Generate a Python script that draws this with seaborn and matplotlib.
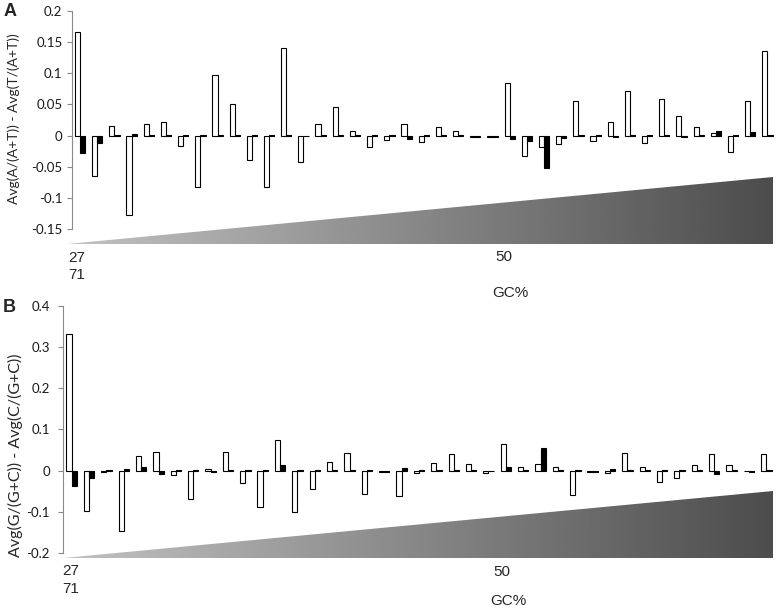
import numpy as np
import pandas as pd
import matplotlib
matplotlib.use('Agg')
import matplotlib.pyplot as plt
import seaborn as sns
from matplotlib.patches import Polygon

# one group of two bars per genome, ordered by GC content (27% -> 71%)
groups=list(range(1,42))
at_white=[0.167,-0.065,0.015,-0.127,0.018,0.022,-0.016,-0.082,0.097,0.050,
          -0.039,-0.082,0.140,-0.043,0.018,0.046,0.007,-0.019,-0.007,0.018,
          -0.010,0.014,0.008,-0.002,-0.002,0.085,-0.032,-0.019,-0.014,0.055,
          -0.008,0.022,0.071,-0.012,0.058,0.031,0.013,0.004,-0.026,0.056,0.136]
at_black=[-0.028,-0.012,0.001,0.002,0.001,0.001,0.001,0.001,0.001,0.001,
          0.001,0.001,0.001,-0.001,0.001,0.001,0.001,0.001,0.001,-0.006,
          0.001,0.001,0.001,-0.002,-0.002,-0.005,-0.008,-0.052,-0.004,0.001,
          0.001,-0.003,0.001,0.001,0.001,-0.002,0.001,0.007,0.001,0.005,0.001]
gc_white=[0.332,-0.098,-0.004,-0.147,0.035,0.045,-0.011,-0.070,0.003,0.046,
          -0.031,-0.089,0.075,-0.100,-0.045,0.022,0.042,-0.057,-0.003,-0.061,
          -0.005,0.019,0.041,0.017,-0.006,0.065,0.010,0.016,0.008,-0.059,
          -0.003,-0.006,0.044,0.008,-0.027,-0.019,0.014,0.040,0.014,-0.002,0.041]
gc_black=[-0.037,-0.019,0.002,0.003,0.010,-0.008,0.002,0.001,-0.003,0.002,
          0.002,0.001,0.014,0.001,0.002,0.001,0.001,0.002,-0.003,0.006,
          0.001,0.001,0.001,0.001,-0.002,0.010,0.001,0.054,0.001,0.001,
          -0.004,0.004,0.001,0.001,0.001,0.001,0.001,-0.008,0.001,-0.004,0.001]

at_ticks=[0.2,0.15,0.1,0.05,0,-0.05,-0.1,-0.15]
at_ticklabels=['0.2','0.15','0.1','0.05','0','-0.05','-0.1','-0.15']
gc_ticks=[0.4,0.3,0.2,0.1,0,-0.1,-0.2]
gc_ticklabels=['0.4','0.3','0.2','0.1','0','-0.1','-0.2']

sns.set_style('white')
plt.rcParams['font.family']=['Lato','DejaVu Sans']
W,H=777,616
fig=plt.figure(figsize=(W/100,H/100),dpi=100)

def px_axes(left,top,right,bottom):
    return fig.add_axes([left/W,1-bottom/H,(right-left)/W,(bottom-top)/H])

# helper axes in pixel units for the GC gradient wedges
bg=fig.add_axes([0,0,1,1],zorder=-1)
bg.set_xlim(0,W); bg.set_ylim(H,0); bg.axis('off')
grad=np.linspace(0.76,0.30,256)[None,:]
def wedge(x0,x1,ybot,ytop):
    poly=Polygon([(x0,ybot),(x1,ybot),(x1,ytop)],closed=True,facecolor='none',edgecolor='none')
    bg.add_patch(poly)
    im=bg.imshow(grad,cmap='gray',vmin=0,vmax=1,aspect='auto',extent=[x0,x1,ybot,ytop],interpolation='bilinear')
    im.set_clip_path(poly)
wedge(67,773,244,177)
wedge(63,773,558,491)

def panel(ax,white,black,ylim,ticks,labels,pad):
    df=pd.DataFrame({'group':groups*2,'value':white+black,
                     'series':['white']*len(white)+['black']*len(black)})
    sns.barplot(df,x='group',y='value',hue='series',hue_order=['white','black'],
                palette={'white':'white','black':'black'},saturation=1,
                edgecolor='black',linewidth=0.8,width=0.6,gap=0,
                errorbar=None,legend=False,ax=ax)
    ax.set_facecolor('none')
    ax.set_xlim(-0.5,40.5)
    ax.set_ylim(*ylim)
    ax.set_xticks([])
    ax.set(xlabel='',ylabel='')
    ax.set_yticks(ticks,labels)
    sns.despine(ax=ax,bottom=True)
    ax.spines['left'].set_color('#8a8a8a')
    ax.tick_params(axis='y',left=True,direction='out',length=3.5,width=0.8,
                   color='#8a8a8a',labelsize=9.5,pad=pad,labelcolor='#1a1a1a')

axA=px_axes(71.5,11,776,229)
panel(axA,at_white,at_black,(-0.15,0.2),at_ticks,at_ticklabels,3)
axB=px_axes(63,306,775,553)
panel(axB,gc_white,gc_black,(-0.2,0.4),gc_ticks,gc_ticklabels,6)

def ftext(x,y,s,**kw):
    fig.text(x/W,1-y/H,s,**kw)

ftext(10,12,'A',fontsize=13,fontweight='bold',ha='center',va='center',family=['Liberation Sans'])
ftext(9,308,'B',fontsize=13,fontweight='bold',ha='center',va='center',family=['Liberation Sans'])
ftext(14,119,'Avg(A/(A+T)) - Avg(T/(A+T))',rotation=90,fontsize=10,ha='center',va='center')
ftext(15,455,'Avg(G/(G+C)) - Avg(C/(G+C))',rotation=90,fontsize=11.5,ha='center',va='center')

lab=dict(fontsize=11,ha='center',va='center',family=['Liberation Sans'])
ftext(77,257.5,'27',**lab); ftext(77,274.5,'71',**lab)
ftext(504,257,'50',**lab); ftext(510,293,'GC%',**lab)
ftext(71,571,'27',**lab); ftext(71,589,'71',**lab)
ftext(502,572,'50',**lab); ftext(508,601,'GC%',**lab)

fig.savefig('out.png',dpi=100)
